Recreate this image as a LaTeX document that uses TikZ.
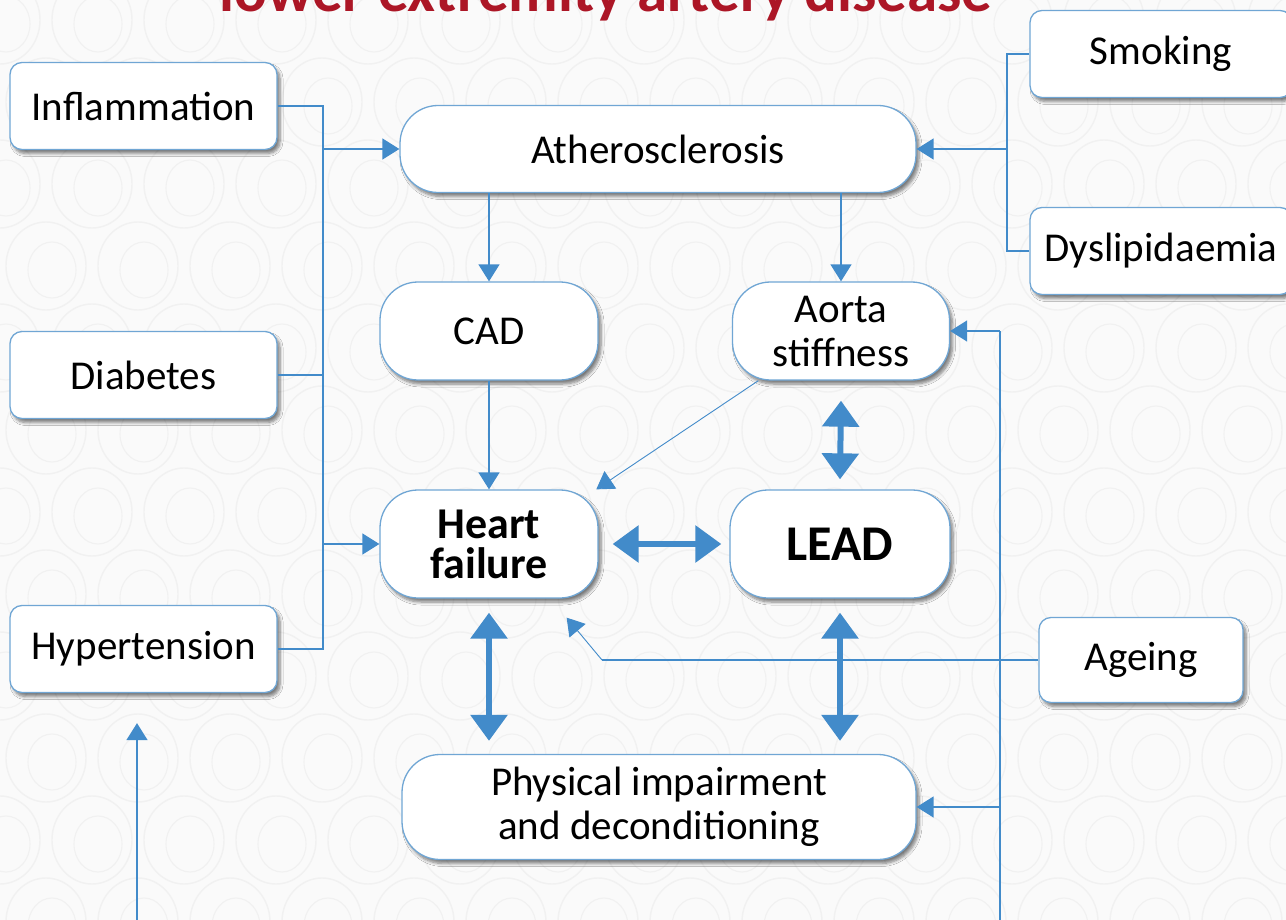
\documentclass[tikz,border=0pt]{standalone}
\usepackage{fontspec}
\setmainfont{Carlito}
\usetikzlibrary{shadows,shadows.blur,arrows.meta,calc}

\definecolor{lnk}{RGB}{66,139,202}
\definecolor{bord}{RGB}{112,166,212}
\definecolor{ttl}{RGB}{172,22,38}
\definecolor{bgc}{RGB}{250,250,250}
\definecolor{pat}{RGB}{241,241,241}

\begin{document}
\begin{tikzpicture}[x=1pt,y=-1pt,
  box/.style={draw=bord, line width=1.3pt, fill=white, rounded corners=12pt,
    minimum width=267pt, minimum height=87pt, inner sep=0pt, align=center,
    font=\fontsize{41}{44}\selectfont,
    blur shadow={shadow xshift=3pt, shadow yshift=-4pt, shadow blur steps=6,
      shadow blur radius=3pt, shadow opacity=50}},
  pill/.style={box, rounded corners=38pt},
  wire/.style={draw=lnk, line width=1.4pt},
  tip/.style={-{Triangle[length=17pt,width=21pt]}},
  fine/.style={draw=lnk, line width=0.9pt},
  bi/.style={draw=lnk, line width=6pt,
    {Triangle[length=26pt,width=36pt]}-{Triangle[length=26pt,width=36pt]}},
]
\useasboundingbox (0,0) rectangle (1286,920);
\fill[bgc] (0,0) rectangle (1286,920);

% faint swirl pattern of the backdrop
\begin{scope}
\clip (0,0) rectangle (1286,920);
\foreach \j in {0,...,11}{
  \foreach \i in {0,...,14}{
    \pgfmathsetmacro{\cx}{\i*92 + mod(\j,2)*46}
    \pgfmathsetmacro{\cy}{\j*82 + 20}
    \draw[pat, line width=1.4pt] (\cx,\cy) ellipse[x radius=40, y radius=44];
    \draw[pat, line width=1.1pt] (\cx+6,\cy+4) ellipse[x radius=24, y radius=28];
  }
}
\end{scope}

% title
\node[font=\bfseries\fontsize{61}{61}\selectfont, text=ttl, anchor=base, inner sep=0pt]
  (title) at (606,12) {lower extremity artery disease};

% risk factors
\node[box] (infl) at (143.5,106) {Inflammation};
\node[box] (diab) at (143.5,375) {Diabetes};
\node[box] (hyp)  at (143.5,649) {Hypertension};
\node[box, minimum width=262pt] (smok) at (1161,54)  {Smoking};
\node[box, minimum width=262pt] (dysl) at (1161,251) {Dyslipidaemia};
\node[box, minimum width=204pt, minimum height=85pt] (age) at (1141,660) {Ageing};

% central chain
\node[pill, minimum width=516pt] (ath) at (658,149) {Atherosclerosis};
\node[pill, minimum width=218pt, minimum height=98pt] (cad) at (489,331) {CAD};
\node[pill, minimum width=217pt, minimum height=98pt] (aorta) at (841,331) {Aorta\\stiffness};
\node[pill, minimum width=218pt, minimum height=108pt,
  font=\bfseries\fontsize{44}{40}\selectfont] (hf) at (489,544) {Heart\\failure};
\node[pill, minimum width=220pt, minimum height=108pt,
  font=\bfseries\fontsize{50}{50}\selectfont] (lead) at (840,544) {LEAD};
\node[pill, minimum width=514pt, minimum height=105pt] (phys) at (659,807)
  {Physical impairment\\and deconditioning};

% left bus
\coordinate (lbus) at (323,0);
\draw[wire] (infl.east) -- (infl.east -| lbus) -- (hyp.east -| lbus) -- (hyp.east);
\draw[wire] (diab.east) -- (diab.east -| lbus);
\draw[wire,tip] (ath.west -| lbus) -- (ath.west);
\draw[wire,tip] (hf.west -| lbus) -- (hf.west);

% right bus (smoking, dyslipidaemia)
\coordinate (rbus) at (1007,0);
\draw[wire] (smok.west) -- (smok.west -| rbus) -- (dysl.west -| rbus) -- (dysl.west);
\draw[wire,tip] (ath.east -| rbus) -- (ath.east);

% atherosclerosis outcomes
\draw[wire,tip] (ath.south -| cad) -- (cad.north);
\draw[wire,tip] (ath.south -| aorta) -- (aorta.north);
\draw[wire,tip] (cad.south) -- (hf.north);
\draw[fine,tip] (aorta.-149) -- (hf.27);

% two-way links
\draw[bi] ([xshift=14pt]hf.east) -- ([xshift=-8pt]lead.west);
\draw[bi] ([yshift=-20pt]aorta.south) -- ([yshift=10pt]lead.north);
\draw[bi] ([yshift=-14pt]hf.south) -- ([yshift=13pt]hf.south |- phys.north);
\draw[bi] ([yshift=-14pt]lead.south) -- ([yshift=13pt]lead.south |- phys.north);

% ageing bus
\coordinate (abus) at (1000,920);
\draw[wire] (abus) -- (aorta.east -| abus);
\draw[wire,tip] (aorta.east -| abus) -- (aorta.east);
\draw[wire,tip] (phys.east -| abus) -- (phys.east);
\coordinate (bend) at (602,660);
\draw[wire] (age.west) -- (bend);
\draw[fine,tip] (bend) -- ($(hf.south east)+(-32,19)$);

% arrow rising into hypertension
\coordinate (hbus) at (137,920);
\draw[wire,tip,shorten >=30pt] (hbus) -- (hbus |- hyp.south);
\end{tikzpicture}
\end{document}
